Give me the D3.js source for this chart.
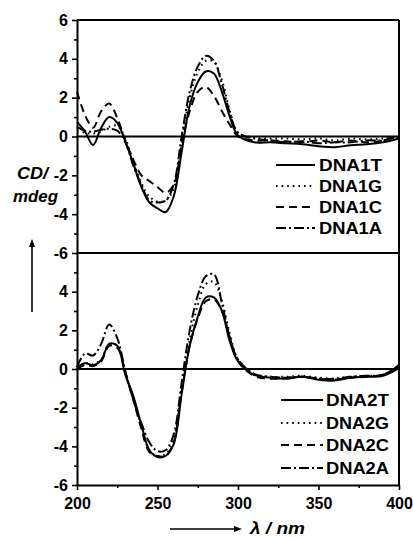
<!DOCTYPE html>
<html><head><meta charset="utf-8">
<script src="https://cdn.jsdelivr.net/npm/d3@7"></script>
<style>
html,body{margin:0;padding:0;background:#fff;}
text{font-family:"Liberation Sans",Arial,sans-serif;font-weight:bold;fill:#000;}
</style></head>
<body>
<svg id="chart" width="413" height="537"></svg>
<script>
// ---- data ----
const wavelengths = [200,205,210,215,220,225,230,235,240,245,250,255,260,265,270,275,280,285,290,295,300,310,320,330,340,350,360,370,380,390,400];

const DNA1T = [0.75,0.25,-0.44,0.45,1.0,0.7,-0.25,-1.4,-2.6,-3.4,-3.7,-3.9,-3.1,-0.8,1.6,2.8,3.35,3.25,2.3,1.0,0.05,-0.3,-0.3,-0.35,-0.4,-0.5,-0.55,-0.45,-0.4,-0.3,-0.1];
const DNA1G = [0.3,0.2,0.15,0.25,0.5,0.55,-0.1,-1.3,-2.4,-3.1,-3.35,-3.3,-2.7,-0.3,2.0,3.3,3.9,3.85,2.9,1.3,0.2,-0.05,-0.1,-0.1,-0.15,-0.1,-0.2,-0.1,-0.15,-0.1,0.0];
const DNA1C = [2.3,1.1,0.45,1.3,1.7,0.95,-0.2,-1.2,-2.0,-2.3,-2.6,-2.9,-2.5,-0.4,1.3,2.3,2.55,2.1,1.3,0.6,0.0,-0.2,-0.2,-0.25,-0.3,-0.2,-0.3,-0.2,-0.3,-0.2,0.1];
const DNA1A = [0.5,0.3,0.25,0.35,0.4,0.3,-0.3,-1.5,-2.5,-3.3,-3.4,-3.3,-2.5,0.0,2.3,3.6,4.15,3.9,2.7,1.2,0.2,-0.1,-0.2,-0.3,-0.25,-0.35,-0.3,-0.3,-0.2,-0.2,0.0];

const DNA2T = [0.1,0.3,0.2,0.45,1.3,1.2,-0.3,-1.4,-2.9,-4.2,-4.55,-4.5,-3.9,-1.3,1.2,2.7,3.7,3.7,3.0,1.4,0.4,-0.3,-0.45,-0.5,-0.4,-0.55,-0.6,-0.45,-0.4,-0.35,0.05];
const DNA2G = [0.0,0.3,0.25,0.5,1.3,1.2,-0.2,-1.5,-3.0,-4.2,-4.5,-4.4,-3.7,-1.0,1.5,3.3,4.4,4.5,3.5,1.8,0.5,-0.3,-0.4,-0.4,-0.35,-0.45,-0.5,-0.4,-0.35,-0.3,0.1];
const DNA2C = [0.0,0.2,0.15,0.4,1.2,1.1,-0.2,-1.6,-3.1,-4.3,-4.5,-4.5,-3.8,-1.2,1.2,2.6,3.5,3.6,3.0,1.6,0.4,-0.35,-0.5,-0.45,-0.4,-0.5,-0.55,-0.45,-0.4,-0.3,0.15];
const DNA2A = [0.1,0.8,0.7,1.3,2.3,1.6,-0.1,-1.6,-2.8,-3.8,-4.25,-4.2,-3.4,-0.7,2.0,3.8,4.8,4.9,3.4,1.6,0.5,-0.25,-0.4,-0.45,-0.4,-0.5,-0.5,-0.4,-0.35,-0.3,0.2];

const topNames = ["DNA1T","DNA1G","DNA1C","DNA1A"];
const botNames = ["DNA2T","DNA2G","DNA2C","DNA2A"];
const topValues = [DNA1T,DNA1G,DNA1C,DNA1A];
const botValues = [DNA2T,DNA2G,DNA2C,DNA2A];

const xMajor = [200,250,300,350,400];
const xMinor = [225,275,325,375];
const yMajorTop = [6,4,2,0,-2,-4,-6];
const yMajorBot = [4,2,0,-2,-4,-6];
const yMinor = [5,3,1,-1,-3,-5];

// ---- layout ----
const svg = d3.select("#chart");
const L = 77, R = 399;
const x = d3.scaleLinear().domain([200,400]).range([L,R]);
const yTop = d3.scaleLinear().domain([-6,6]).range([253,20]);
const yBot = d3.scaleLinear().domain([-6,6]).range([485,253]);

const dashes = [null, "1.6,4", "8,5", "10,3,2,3"];
const fmt = d => String(d);

function drawPanel(y, values){
  const g = svg.append("g");
  const line = d3.line().x((d,i)=>x(wavelengths[i])).y(d=>y(d)).curve(d3.curveCatmullRom.alpha(0.5));
  values.forEach((vals,k)=>{
    g.append("path").datum(vals).attr("d",line)
      .attr("fill","none").attr("stroke","#000").attr("stroke-width",2)
      .attr("stroke-dasharray",dashes[k]).attr("stroke-linecap","butt");
  });
  g.append("line").attr("x1",L).attr("x2",R).attr("y1",y(0)).attr("y2",y(0))
    .attr("stroke","#000").attr("stroke-width",1.8);
}
drawPanel(yTop, topValues);
drawPanel(yBot, botValues);

// frame lines
const frame = svg.append("g").attr("stroke","#000").attr("stroke-width",2).attr("fill","none");
frame.append("line").attr("x1",L).attr("x2",R).attr("y1",yTop(6)).attr("y2",yTop(6));
frame.append("line").attr("x1",L).attr("x2",R).attr("y1",yTop(-6)).attr("y2",yTop(-6));
frame.append("line").attr("x1",R).attr("x2",R).attr("y1",yTop(6)).attr("y2",yBot(-6));

function styleAxis(g, size){
  g.selectAll(".domain").attr("stroke-width",2);
  g.selectAll(".tick line").attr("stroke-width",1.6);
  g.selectAll("text").attr("font-size",size).attr("font-weight","bold")
    .attr("font-family",'"Liberation Sans",Arial,sans-serif');
}

function leftAxis(y, majors){
  svg.append("g").attr("transform",`translate(${L},0)`)
    .call(d3.axisLeft(y).tickValues(yMinor).tickSize(3).tickFormat(""))
    .call(g=>{g.select(".domain").remove(); g.selectAll(".tick line").attr("stroke-width",1.6);});
  svg.append("g").attr("transform",`translate(${L},0)`)
    .call(d3.axisLeft(y).tickValues(majors).tickSize(5).tickSizeOuter(0).tickPadding(4).tickFormat(fmt))
    .call(g=>styleAxis(g,16));
}
leftAxis(yTop, yMajorTop);
leftAxis(yBot, yMajorBot);

svg.append("g").attr("transform",`translate(0,${yBot(-6)})`)
  .call(d3.axisBottom(x).tickValues(xMinor).tickSize(3).tickFormat(""))
  .call(g=>{g.select(".domain").remove(); g.selectAll(".tick line").attr("stroke-width",1.6);});
svg.append("g").attr("transform",`translate(0,${yBot(-6)})`)
  .call(d3.axisBottom(x).tickValues(xMajor).tickSize(5).tickSizeOuter(0).tickPadding(8).tickFormat(fmt))
  .call(g=>styleAxis(g,16));

// legends
function legend(names, x0, x1, tx, ys){
  names.forEach((n,k)=>{
    svg.append("line").attr("x1",x0).attr("x2",x1).attr("y1",ys[k]).attr("y2",ys[k])
      .attr("stroke","#000").attr("stroke-width",1.9).attr("stroke-dasharray",dashes[k]);
    svg.append("text").attr("x",tx).attr("y",ys[k]).attr("dy","0.36em")
      .attr("font-size",16).attr("textLength",63).attr("lengthAdjust","spacingAndGlyphs").text(n);
  });
}
legend(topNames, 276, 315, 319, [165,186,207,228]);
legend(botNames, 281, 323, 326, [400,423,445,468]);

// axis titles
svg.append("text").attr("x",17).attr("y",179).attr("font-size",16).attr("font-style","italic")
  .attr("textLength",31).attr("lengthAdjust","spacingAndGlyphs").text("CD/");
svg.append("text").attr("x",13).attr("y",202).attr("font-size",16).attr("font-style","italic")
  .attr("textLength",45).attr("lengthAdjust","spacingAndGlyphs").text("mdeg");
svg.append("text").attr("x",250).attr("y",534).attr("font-size",16).attr("font-style","italic")
  .attr("textLength",55).attr("lengthAdjust","spacingAndGlyphs").text("λ / nm");

// arrows
svg.append("line").attr("x1",32).attr("x2",32).attr("y1",312).attr("y2",245).attr("stroke","#000").attr("stroke-width",1.6);
svg.append("path").attr("d",d3.line()([[29,247],[32,239],[35,247]])).attr("fill","#000");
svg.append("line").attr("x1",170).attr("x2",236).attr("y1",529).attr("y2",529).attr("stroke","#000").attr("stroke-width",1.6);
svg.append("path").attr("d",d3.line()([[234,526],[242,529],[234,532]])).attr("fill","#000");
</script>
</body></html>
